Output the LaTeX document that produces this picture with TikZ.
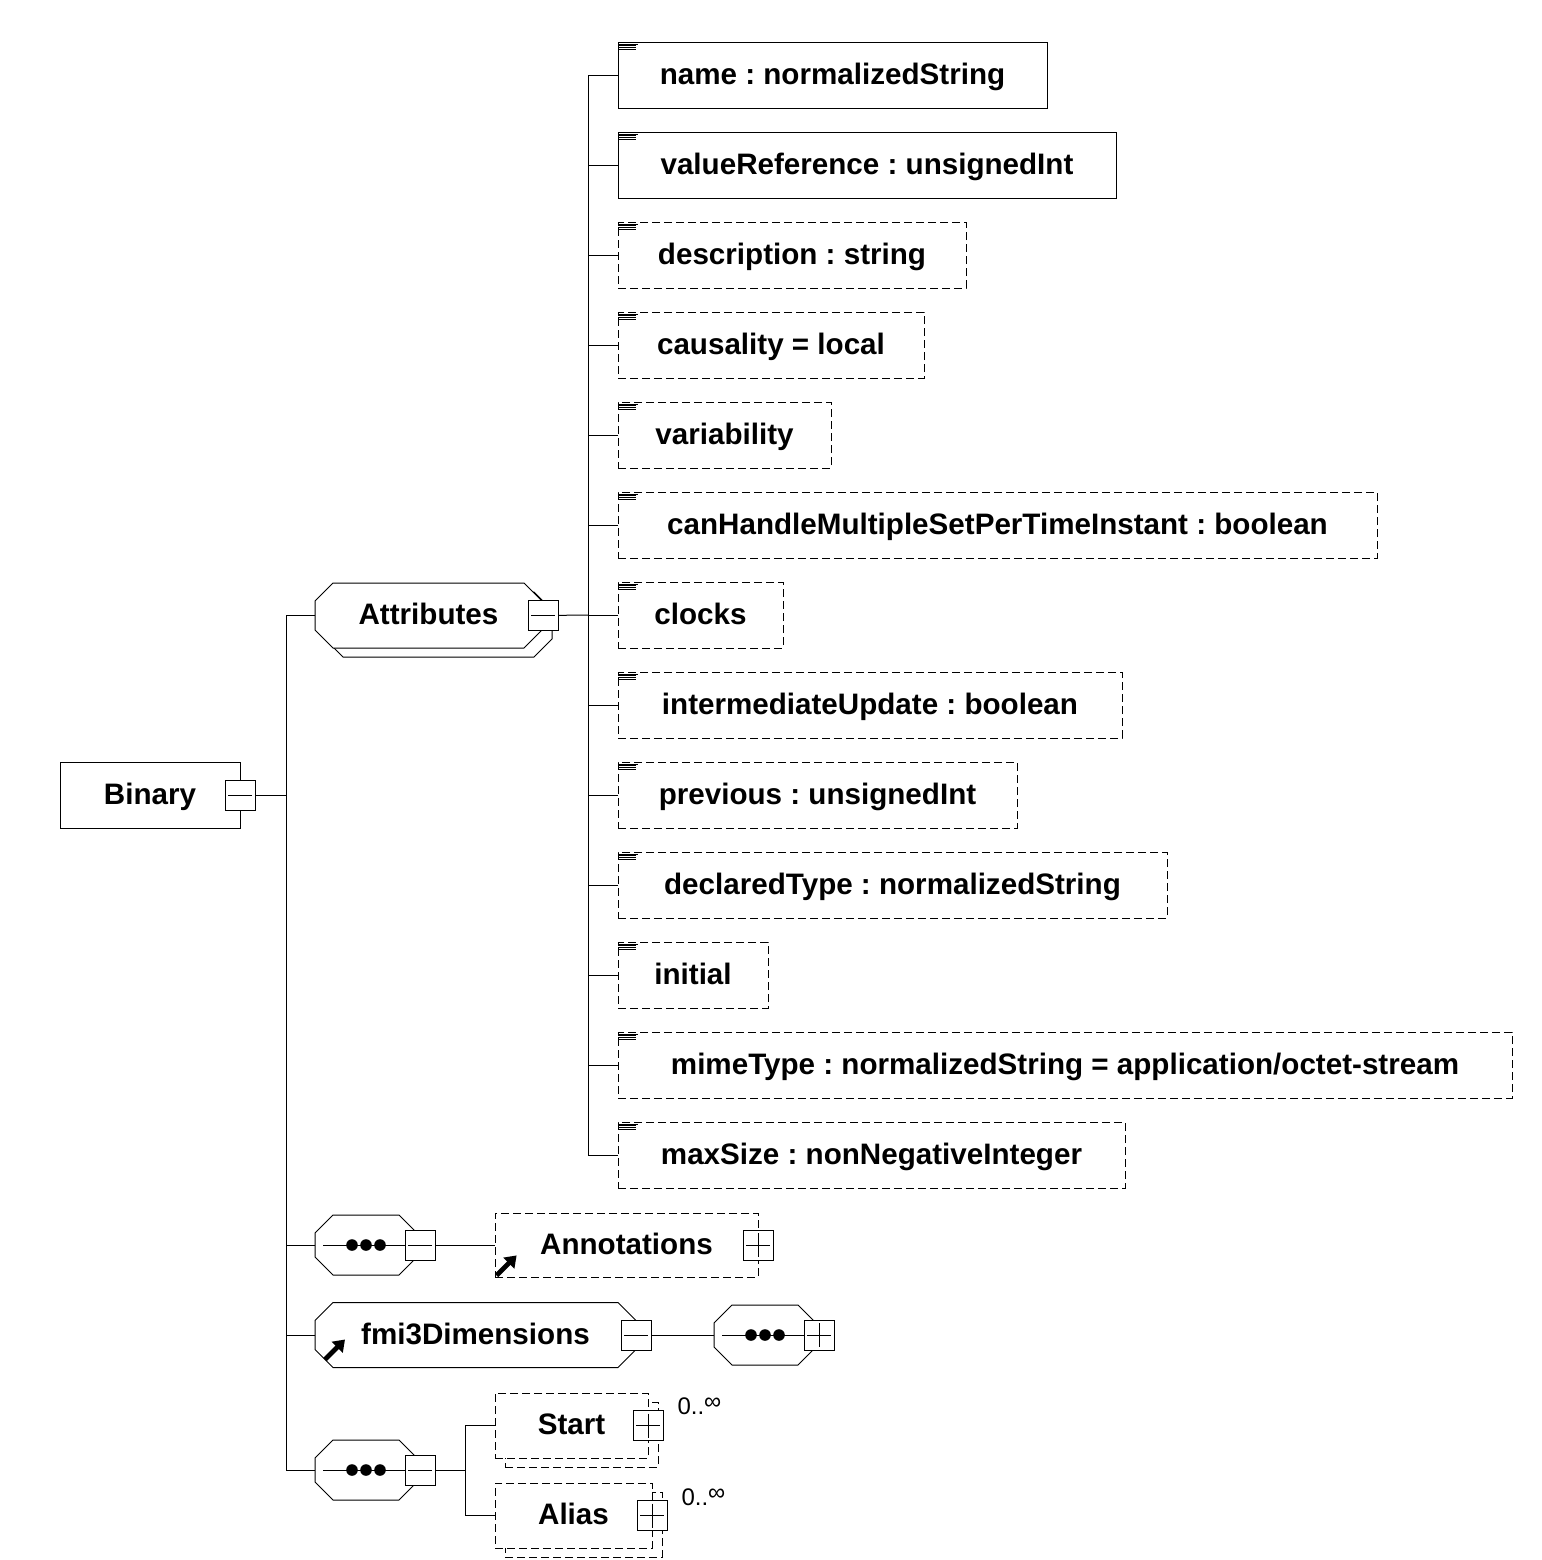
\documentclass[tikz,border=0pt]{standalone}
\usepackage{fontspec}
\setmainfont{Liberation Sans}
\usetikzlibrary{positioning}
\usetikzlibrary{arrows.meta}
\usetikzlibrary{shadows}

% octagon with the anchors of a rectangle
\makeatletter
\pgfdeclareshape{octobox}{
  \inheritsavedanchors[from=rectangle]
  \inheritanchorborder[from=rectangle]
  \inheritanchor[from=rectangle]{center}
  \inheritanchor[from=rectangle]{north}
  \inheritanchor[from=rectangle]{south}
  \inheritanchor[from=rectangle]{east}
  \inheritanchor[from=rectangle]{west}
  \inheritanchor[from=rectangle]{north east}
  \inheritanchor[from=rectangle]{north west}
  \inheritanchor[from=rectangle]{south east}
  \inheritanchor[from=rectangle]{south west}
  \inheritanchor[from=rectangle]{text}
  \inheritanchor[from=rectangle]{base}
  \inheritanchor[from=rectangle]{mid}
  \backgroundpath{
    \southwest \edef\oxa{\the\pgf@x}\edef\oya{\the\pgf@y}
    \northeast \edef\oxb{\the\pgf@x}\edef\oyb{\the\pgf@y}
    \pgfpathmoveto{\pgfpointadd{\pgfpoint{\oxa}{\oya}}{\pgfpoint{9pt}{0pt}}}
    \pgfpathlineto{\pgfpointadd{\pgfpoint{\oxb}{\oya}}{\pgfpoint{-9pt}{0pt}}}
    \pgfpathlineto{\pgfpointadd{\pgfpoint{\oxb}{\oya}}{\pgfpoint{0pt}{9pt}}}
    \pgfpathlineto{\pgfpointadd{\pgfpoint{\oxb}{\oyb}}{\pgfpoint{0pt}{-9pt}}}
    \pgfpathlineto{\pgfpointadd{\pgfpoint{\oxb}{\oyb}}{\pgfpoint{-9pt}{0pt}}}
    \pgfpathlineto{\pgfpointadd{\pgfpoint{\oxa}{\oyb}}{\pgfpoint{9pt}{0pt}}}
    \pgfpathlineto{\pgfpointadd{\pgfpoint{\oxa}{\oyb}}{\pgfpoint{0pt}{-9pt}}}
    \pgfpathlineto{\pgfpointadd{\pgfpoint{\oxa}{\oya}}{\pgfpoint{0pt}{9pt}}}
    \pgfpathclose
  }
}
\makeatother

\tikzset{
  elem/.style={draw, fill=white, rectangle, inner sep=0pt, outer sep=0pt,
    minimum height=33pt, text height=11pt, text depth=2pt,
    font=\fontsize{14.8}{18}\selectfont\bfseries\frenchspacing},
  opt/.style={dash pattern=on 4pt off 2pt},
  attr/.style={elem, anchor=west,
    path picture={\draw[solid]
      ([yshift=-1pt]path picture bounding box.north west) -- ++(10pt,0pt)
      ([yshift=-1.9pt]path picture bounding box.north west) -- ++(9pt,0pt)
      ([yshift=-2.8pt]path picture bounding box.north west) -- ++(9pt,0pt)
      ([yshift=-3.6pt]path picture bounding box.north west) -- ++(9pt,0pt);}},
  grp/.style={elem, octobox, minimum height=32.5pt},
  seqbox/.style={grp, minimum width=51pt, minimum height=30pt,
    path picture={
      \draw ([xshift=4pt]path picture bounding box.west) -- (path picture bounding box.east);
      \fill[black] ([xshift=-7pt]path picture bounding box.center) circle (2.9pt);
      \fill[black] (path picture bounding box.center) circle (2.9pt);
      \fill[black] ([xshift=7pt]path picture bounding box.center) circle (2.9pt);}},
  refer/.style={path picture={\draw[solid, black, line width=2.4pt, -{Triangle[length=5.5pt, width=7.5pt]}]
      ([shift={(#1)}]path picture bounding box.south west) -- ++(10pt,10pt);}},
  stack/.style={copy shadow={shadow xshift=5pt, shadow yshift=-4.5pt, draw, #1}},
  minbox/.style={draw, solid, fill=white, minimum size=15pt, inner sep=0pt, outer sep=0pt,
    path picture={\draw ([xshift=1.5pt]path picture bounding box.west)
      -- ([xshift=-1.5pt]path picture bounding box.east);}},
  plusbox/.style={minbox,
    path picture={\draw ([xshift=1.5pt]path picture bounding box.west)
      -- ([xshift=-1.5pt]path picture bounding box.east)
      ([yshift=-1.5pt]path picture bounding box.north)
      -- ([yshift=1.5pt]path picture bounding box.south);}},
  occ/.style={anchor=west, inner sep=0pt, font=\fontsize{12}{14}\selectfont}
}

\begin{document}
\begin{tikzpicture}[x=0.5pt, y=-0.5pt, line width=0.5pt]
  \useasboundingbox (0,0) rectangle (1542,1560);

  % root element
  \node[elem, minimum width=90pt] (bin) at (150,795) {Binary};
  \node[minbox] (binmin) at (bin.east) {};
  \coordinate (trunk) at (286,795);
  \draw (binmin) -- (trunk);

  % attribute group
  \node[grp, stack, minimum width=113.5pt] (attgrp) at (428.5,615.5) {Attributes};
  \node[minbox] (attmin) at ([xshift=0.5pt]attgrp.east) {};
  \coordinate (atrunk) at (588,615);
  \draw (attmin) -- (atrunk);

  \node[attr, minimum width=214.5pt] (a1) at (618,75) {name : normalizedString};
  \node[attr, minimum width=249pt] (a2) at (618,165) {valueReference : unsignedInt};
  \node[attr, opt, minimum width=174pt] (a3) at (618,255) {description : string};
  \node[attr, opt, minimum width=153pt] (a4) at (618,345) {causality = local};
  \node[attr, opt, minimum width=106.5pt] (a5) at (618,435) {variability};
  \node[attr, opt, minimum width=379.5pt] (a6) at (618,525) {canHandleMultipleSetPerTimeInstant : boolean};
  \node[attr, opt, minimum width=82.5pt] (a7) at (618,615) {clocks};
  \node[attr, opt, minimum width=252pt] (a8) at (618,705) {intermediateUpdate : boolean};
  \node[attr, opt, minimum width=199.5pt] (a9) at (618,795) {previous : unsignedInt};
  \node[attr, opt, minimum width=274.5pt] (a10) at (618,885) {declaredType : normalizedString};
  \node[attr, opt, minimum width=75pt] (a11) at (618,975) {initial};
  \node[attr, opt, minimum width=447pt] (a12) at (618,1065) {mimeType : normalizedString = application/octet-stream};
  \node[attr, opt, minimum width=253.5pt] (a13) at (618,1155) {maxSize : nonNegativeInteger};

  \draw (a1.west) -- (a1.west -| atrunk) |- (a13.west);
  \draw (a2.west) -- (a2.west -| atrunk);
  \draw (a3.west) -- (a3.west -| atrunk);
  \draw (a4.west) -- (a4.west -| atrunk);
  \draw (a5.west) -- (a5.west -| atrunk);
  \draw (a6.west) -- (a6.west -| atrunk);
  \draw (a7.west) -- (a7.west -| atrunk);
  \draw (a8.west) -- (a8.west -| atrunk);
  \draw (a9.west) -- (a9.west -| atrunk);
  \draw (a10.west) -- (a10.west -| atrunk);
  \draw (a11.west) -- (a11.west -| atrunk);
  \draw (a12.west) -- (a12.west -| atrunk);

  % annotations
  \node[seqbox] (seq1) at (366,1245) {};
  \node[minbox] (seq1min) at ([xshift=1.5pt]seq1.east) {};
  \node[elem, opt, refer={0.8pt,0.8pt}, minimum width=131.5pt, minimum height=32pt] (annot) at (626.5,1245) {Annotations};
  \node[plusbox] (annplus) at (annot.east) {};
  \draw (seq1min) -- (annot);

  % dimensions
  \node[grp, refer={5pt,4pt}, minimum width=160.5pt] (dims) at (475.5,1335) {fmi3Dimensions};
  \node[minbox] (dimsmin) at (dims.east) {};
  \node[seqbox] (seq2) at (765,1335) {};
  \node[plusbox] (seq2plus) at ([xshift=1.5pt]seq2.east) {};
  \draw (dimsmin) -- (seq2);

  % start and alias
  \node[seqbox] (seq3) at (366,1470) {};
  \node[minbox] (seq3min) at ([xshift=1.5pt]seq3.east) {};
  \coordinate (strunk) at (465,1470);
  \node[elem, opt, stack={opt}, minimum width=76.5pt, minimum height=32.5pt] (start) at (571.5,1425.5) {Start};
  \node[plusbox] (startplus) at (start.east) {};
  \node[occ] (startocc) at (677,1406) {0..\raisebox{0.4ex}{∞}};
  \node[elem, opt, stack={opt}, minimum width=78.5pt, minimum height=32.5pt] (alias) at (573.5,1515.5) {Alias};
  \node[plusbox] (aliasplus) at (alias.east) {};
  \node[occ] (aliasocc) at (681,1497) {0..\raisebox{0.4ex}{∞}};
  \draw (seq3min) -- (strunk);
  \draw (start.west) -- (start.west -| strunk) |- (alias.west);

  % main trunk
  \draw (attgrp.west) -- (attgrp.west -| trunk) |- (seq3.west);
  \draw (seq1.west) -- (seq1.west -| trunk);
  \draw (dims.west) -- (dims.west -| trunk);
\end{tikzpicture}
\end{document}
